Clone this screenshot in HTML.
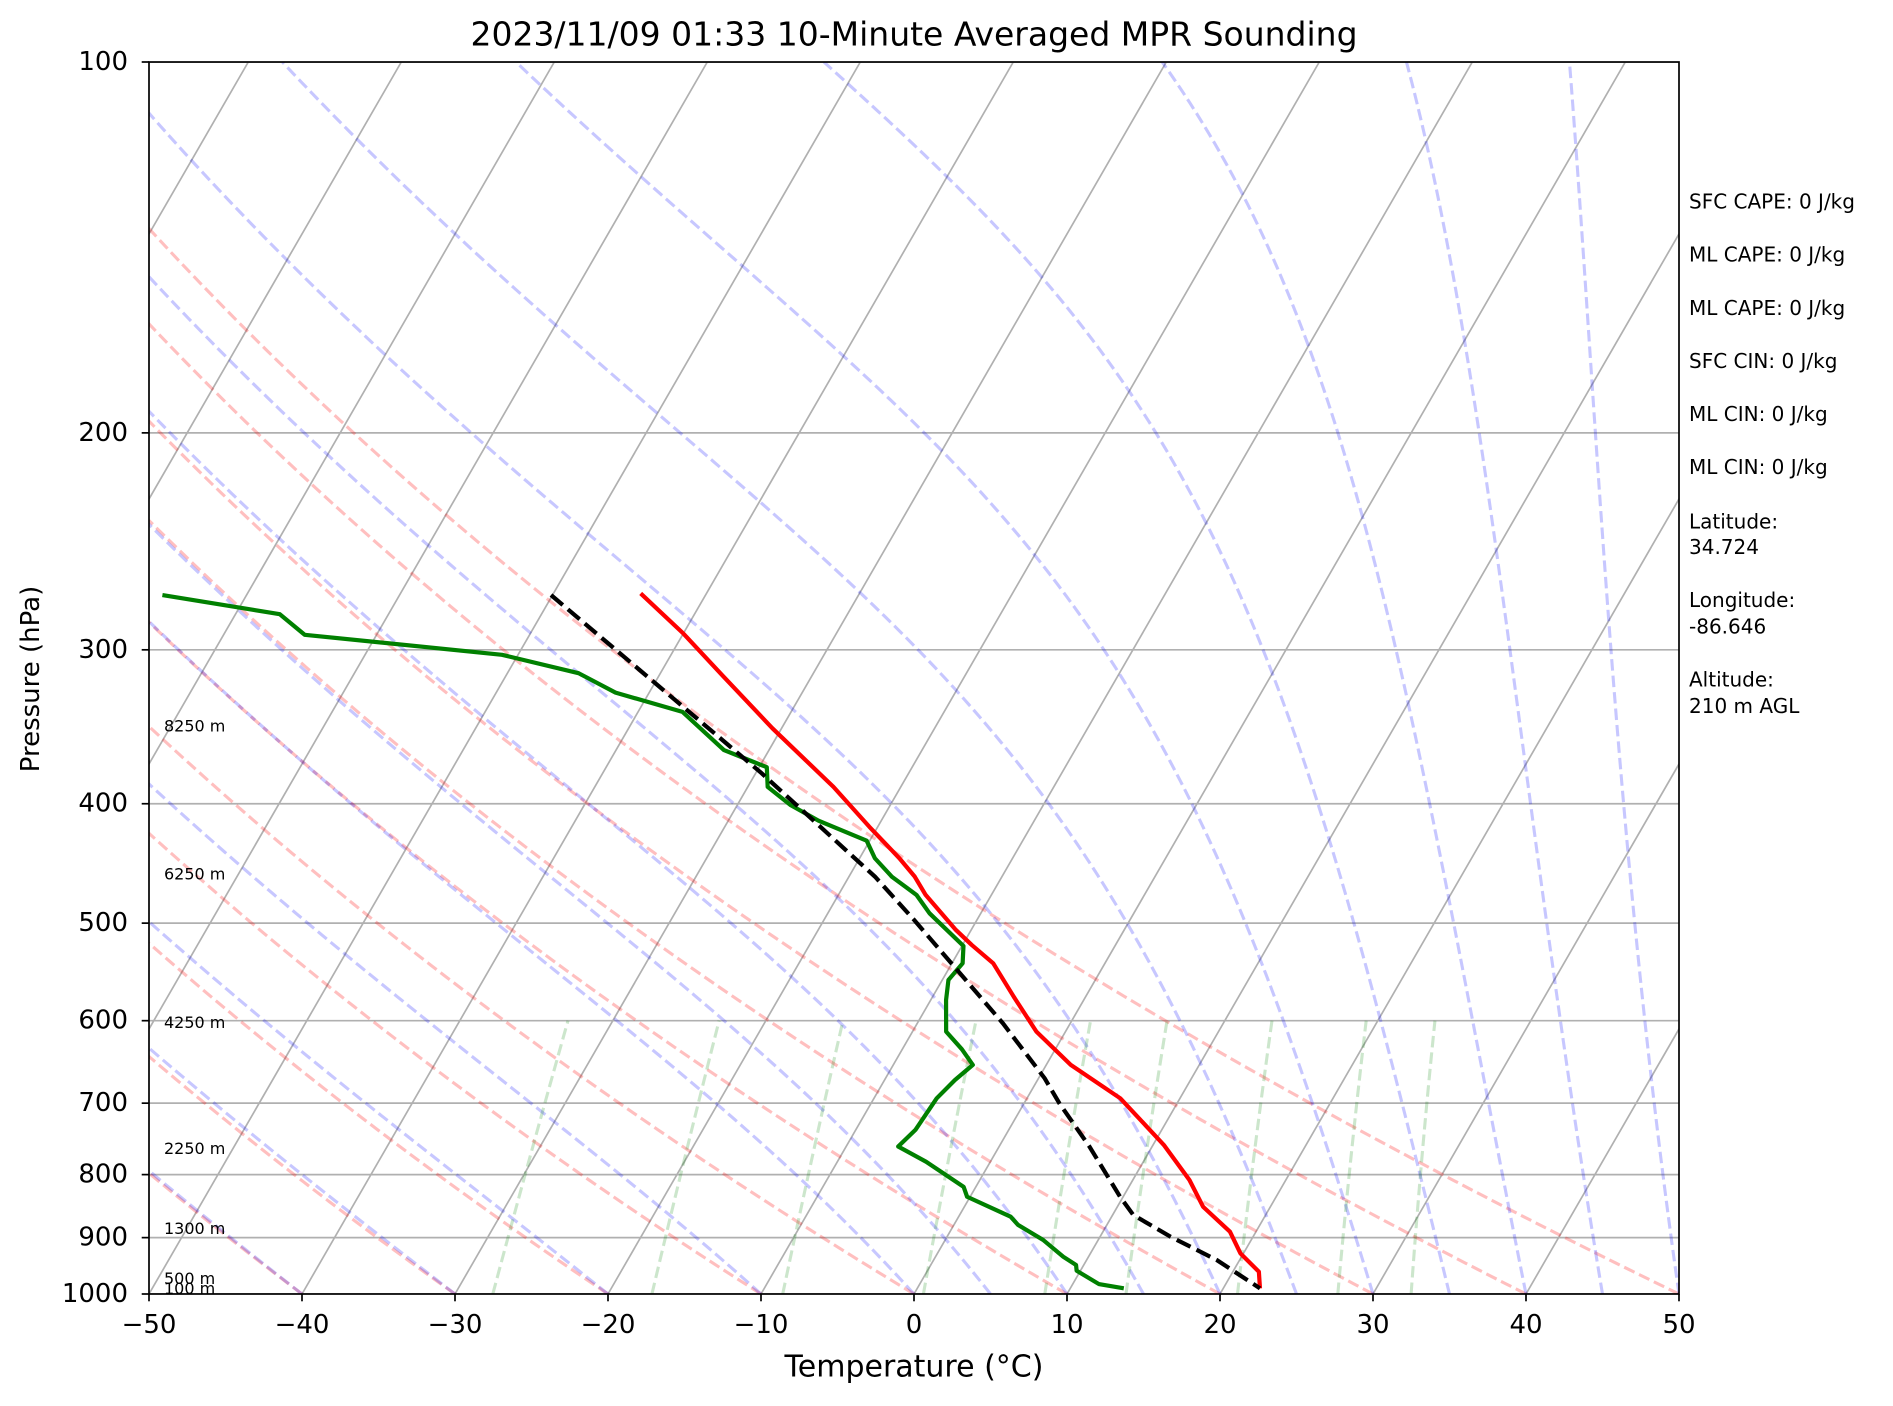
<!DOCTYPE html>
<html><head><meta charset="utf-8"><title>MPR Sounding Skew-T</title>
<style>
html,body{margin:0;padding:0;background:#fff;}
svg{display:block;font-family:"DejaVu Sans","Liberation Sans",sans-serif;}
</style></head>
<body>
<svg id="chart" xmlns="http://www.w3.org/2000/svg" width="1893" height="1406" viewBox="0 0 1893 1406">
  <defs><clipPath id="plotclip"><rect x="149" y="62" width="1530" height="1232"/></clipPath></defs>
  <rect x="0" y="0" width="1893" height="1406" fill="#fff"/>
  <g id="bg" clip-path="url(#plotclip)"></g>
  <g id="prof" clip-path="url(#plotclip)"></g>
  <g id="axes"></g>
  <text x="914" y="34" text-anchor="middle" dominant-baseline="central" font-size="33">2023/11/09 01:33 10-Minute Averaged MPR Sounding</text>
  <text x="914" y="1367" text-anchor="middle" dominant-baseline="central" font-size="30">Temperature (°C)</text>
  <text transform="translate(31,679) rotate(-90)" text-anchor="middle" dominant-baseline="central" font-size="26">Pressure (hPa)</text>
  <g font-size="20">
    <text x="1689" y="201.6" dominant-baseline="central">SFC CAPE: 0 J/kg</text>
    <text x="1689" y="254.7" dominant-baseline="central">ML CAPE: 0 J/kg</text>
    <text x="1689" y="307.8" dominant-baseline="central">ML CAPE: 0 J/kg</text>
    <text x="1689" y="360.9" dominant-baseline="central">SFC CIN: 0 J/kg</text>
    <text x="1689" y="414.2" dominant-baseline="central">ML CIN: 0 J/kg</text>
    <text x="1689" y="467.1" dominant-baseline="central">ML CIN: 0 J/kg</text>
    <text x="1689" y="521.4" dominant-baseline="central">Latitude:</text>
    <text x="1689" y="546.8" dominant-baseline="central">34.724</text>
    <text x="1689" y="600" dominant-baseline="central">Longitude:</text>
    <text x="1689" y="626.5" dominant-baseline="central">-86.646</text>
    <text x="1689" y="679.5" dominant-baseline="central">Altitude:</text>
    <text x="1689" y="706" dominant-baseline="central">210 m AGL</text>
  </g>
</svg>
<script>
// ---- data ----
const tempP = [270,291,314.5,347.4,387.6,417.6,442.9,458.4,474.3,506.4,520.8,539,573.7,612.4,651.7,693.7,756.8,808.1,849.5,890.1,926.8,959.2,989.5];
const tempT = [-44.3,-40.0,-35.9,-30.6,-24.4,-20.55,-17.4,-15.7,-14.3,-11.0,-9.4,-7.3,-4.7,-1.9,1.6,6.1,10.7,13.7,15.6,18.3,19.8,21.7,22.4];
const dewP = [270.8,280.7,291.7,302.8,313.4,325,336.9,361.8,367.4,373.6,387.6,401.1,412.9,428.6,442.9,458.4,474.3,490.9,521.8,539,556,577.2,612.4,633,651.7,670.3,693.7,735.9,759.1,781,818.5,833.8,865.5,879,903.9,932.7,947.3,957.4,981.5,989.5];
const dewT = [-75.5,-67.1,-64.7,-51.05,-45.35,-42.2,-37.1,-32.95,-31.3,-29.5,-28.7,-26.5,-24.1,-20.2,-19.0,-17.2,-14.9,-13.35,-9.9,-9.3,-9.6,-9.0,-7.8,-6.1,-4.8,-5.4,-5.9,-6.1,-6.6,-4.2,-0.8,-0.2,3.4,4.2,6.4,8.35,9.5,9.75,11.7,13.5];
const parcelP = [270.8,333.7,377.9,458.4,497.1,549.1,603,668.2,700.1,759.1,833.8,862.7,898.4,938.4,989.5];
const parcelT = [-50.1,-37.25,-29.6,-18.3,-14.1,-9.1,-4.4,0.4,2.3,5.9,9.8,11.35,14.6,18.5,22.4];
const xTicks = [-50,-40,-30,-20,-10,0,10,20,30,40,50];
const xTickLabels = ["\u221250","\u221240","\u221230","\u221220","\u221210","0","10","20","30","40","50"];
const pTicks = [100,200,300,400,500,600,700,800,900,1000];
const pTickLabels = ["100","200","300","400","500","600","700","800","900","1000"];
const altLabels = ["100 m","500 m","1300 m","2250 m","4250 m","6250 m","8250 m"];
const altP = [990,971,885,762,602,456,346];
const dryT0 = [-50,-40,-30,-20,-10,0,10,20,30,40,50];
const moistT0 = [-50,-40,-30,-20,-10,0,5,10,15,20,25,30,35,40,45,50];
const mixRatios = [0.0004,0.001,0.002,0.004,0.007,0.01,0.016,0.024,0.032];

// ---- axes ----
const X0=149, X1=1679, Y0=62, Y1=1294, TMIN=-50, TMAX=50, SKEW=Math.tan(30*Math.PI/180);
function yp(p){ return Y1-(Y1-Y0)*Math.log10(1000/p); }
function xs(T,p){ return X0+(T-TMIN)*(X1-X0)/(TMAX-TMIN)+(Y1-yp(p))*SKEW; }
const NS="http://www.w3.org/2000/svg";
function mk(tag,attrs,parent){ const e=document.createElementNS(NS,tag); for(const k in attrs) e.setAttribute(k,attrs[k]); parent.appendChild(e); return e; }
const bg=document.getElementById('bg'), prof=document.getElementById('prof'), axes=document.getElementById('axes');
function pathFrom(Ts,Ps){ let d=''; for(let i=0;i<Ts.length;i++){ d+=(i?'L':'M')+xs(Ts[i],Ps[i]).toFixed(2)+' '+yp(Ps[i]).toFixed(2); } return d; }
const pres=[]; for(let i=0;i<=120;i++) pres.push(1000*Math.pow(0.1,i/120));

// isotherm grid
for(let T=-170;T<=50;T+=10){
  const l=mk('line',{x1:xs(T,1000),y1:Y1,x2:xs(T,100),y2:Y0,stroke:'#b0b0b0','stroke-width':1.7},bg);
  
  
}
// pressure grid
pTicks.forEach(p=>{
  const l=mk('line',{x1:X0,y1:yp(p),x2:X1,y2:yp(p),stroke:'#b0b0b0','stroke-width':1.7},bg);
  
  
});
// dry adiabats
dryT0.forEach(t0=>{
  const Ts=pres.map(p=>(t0+273.15)*Math.pow(p/1000,0.28571)-273.15);
  const e=mk('path',{d:pathFrom(Ts,pres),fill:'none',stroke:'red','stroke-opacity':0.25,'stroke-width':3.1,'stroke-dasharray':'11.5 5'},bg);
  
  
});
// moist adiabats
const Rd=287.04749, Cp=1004.6662, Lv=2.50084e6, EPS=0.62196;
function esat(Tk){ const c=Tk-273.15; return 6.112*Math.exp(17.67*c/(c+243.5)); }
function dTdp(p,T){ const es=esat(T); const rs=EPS*es/(p-es); return (Rd*T+Lv*rs)/(Cp+Lv*Lv*rs*EPS/(Rd*T*T))/p; }
moistT0.forEach(t0=>{
  let T=t0+273.15; const Ts=[T-273.15];
  for(let i=1;i<pres.length;i++){
    const p=pres[i-1], h=pres[i]-p;
    const k1=dTdp(p,T),k2=dTdp(p+h/2,T+h*k1/2),k3=dTdp(p+h/2,T+h*k2/2),k4=dTdp(p+h,T+h*k3);
    T+=h*(k1+2*k2+2*k3+k4)/6; Ts.push(T-273.15);
  }
  const e=mk('path',{d:pathFrom(Ts,pres),fill:'none',stroke:'blue','stroke-opacity':0.22,'stroke-width':3.1,'stroke-dasharray':'11.5 5'},bg);
  
  
});
// mixing ratio lines
const mp=[]; for(let i=0;i<=20;i++) mp.push(1000-400*i/20);
mixRatios.forEach(w=>{
  const Ts=mp.map(p=>{ const e=p*w/(EPS+w); const l=Math.log(e/6.112); return 243.5*l/(17.67-l); });
  const e=mk('path',{d:pathFrom(Ts,mp),fill:'none',stroke:'green','stroke-opacity':0.2,'stroke-width':3.1,'stroke-dasharray':'11.5 5'},bg);
  
  
});
// profiles
const tp=mk('path',{d:pathFrom(tempT,tempP),fill:'none',stroke:'red','stroke-width':4.2,'stroke-linejoin':'round'},prof);


const dp=mk('path',{d:pathFrom(dewT,dewP),fill:'none',stroke:'green','stroke-width':4.2,'stroke-linejoin':'round'},prof);


const pp=mk('path',{d:pathFrom(parcelT,parcelP),fill:'none',stroke:'black','stroke-width':4.2,'stroke-dasharray':'15.4 6.7'},prof);


// altitude labels
altLabels.forEach((s,i)=>{
  const t=mk('text',{x:164,y:yp(altP[i]),'font-size':16,'dominant-baseline':'central'},axes);
  t.textContent=s;
  
  
});
// frame
const fr=mk('rect',{x:X0,y:Y0,width:X1-X0,height:Y1-Y0,fill:'none',stroke:'#000','stroke-width':1.7},axes);


// x ticks
xTicks.forEach((T,i)=>{
  const x=X0+(T-TMIN)*(X1-X0)/(TMAX-TMIN);
  const l=mk('line',{x1:x,y1:Y1,x2:x,y2:Y1+7.3,stroke:'#000','stroke-width':1.7},axes);
  
  
  const t=mk('text',{x:x,y:1325,'font-size':26,'text-anchor':'middle','dominant-baseline':'central'},axes);
  t.textContent=xTickLabels[i];
  
  
});
// y ticks
pTicks.forEach((p,i)=>{
  const y=yp(p);
  const l=mk('line',{x1:X0-7.3,y1:y,x2:X0,y2:y,stroke:'#000','stroke-width':1.7},axes);
  
  
  const t=mk('text',{x:128,y:y,'font-size':26,'text-anchor':'end','dominant-baseline':'central'},axes);
  t.textContent=pTickLabels[i];
  
  
});
</script>
</body></html>
